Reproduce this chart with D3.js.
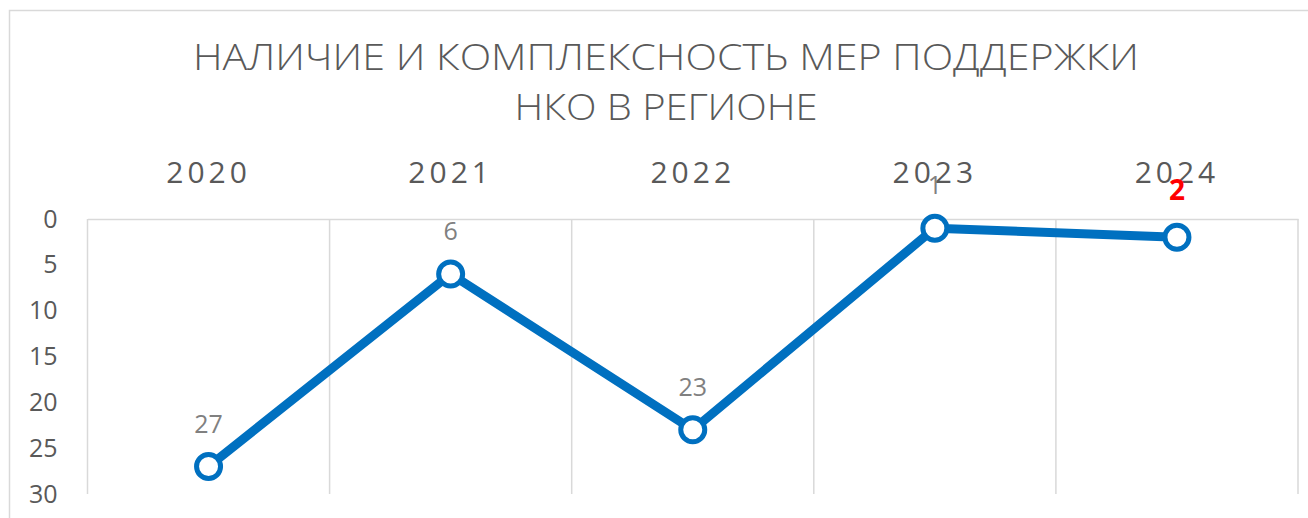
<html>
<head>
<meta charset="utf-8">
<script src="https://cdn.jsdelivr.net/npm/d3@7/dist/d3.min.js"></script>
<style>
body {
	margin: 0;
	background: #fff;
	font-family: "Open Sans", "Noto Sans", sans-serif;
}
</style>
</head>
<body>
<svg id="chart" width="1308" height="518"></svg>
<script>
// данные
var years = ["2020", "2021", "2022", "2023", "2024"];
var values = [27, 6, 23, 1, 2];
var yTicks = [0, 5, 10, 15, 20, 25, 30];
var titleLines = ["НАЛИЧИЕ И КОМПЛЕКСНОСТЬ МЕР ПОДДЕРЖКИ", "НКО В РЕГИОНЕ"];

var svg = d3.select("#chart"),
    margin = {top: 219, left: 87.5, bottom: 24, right: 10},
    width = +svg.attr("width") - margin.left - margin.right,
    height = +svg.attr("height") - margin.top - margin.bottom;

var lineColor = "#0070C0";
var gridColor = "#d9d9d9";

// рамка
svg.append("rect")
    .attr("x", 9.5).attr("y", 10.5)
    .attr("width", 1400).attr("height", 600)
    .attr("fill", "none")
    .attr("stroke", gridColor)
    .attr("stroke-width", 1.5);

// заголовок
svg.append("text")
    .attr("x", 666).attr("y", 70)
    .attr("text-anchor", "middle")
    .attr("font-size", 37)
    .attr("font-weight", 300)
    .attr("fill", "#595959")
    .attr("textLength", 946)
    .attr("lengthAdjust", "spacingAndGlyphs")
    .text(titleLines[0]);
svg.append("text")
    .attr("x", 666).attr("y", 120)
    .attr("text-anchor", "middle")
    .attr("font-size", 37)
    .attr("font-weight", 300)
    .attr("fill", "#595959")
    .attr("textLength", 303)
    .attr("lengthAdjust", "spacingAndGlyphs")
    .text(titleLines[1]);

var x = d3.scaleBand()
    .domain(years)
    .range([0, width]);

var y = d3.scaleLinear()
    .domain([0, 30])
    .range([0, 275]);

var g = svg.append("g")
    .attr("transform", `translate(${margin.left},${margin.top})`);

// вертикальная сетка
var bounds = years.map(function(d){ return x(d); }).concat([width]);
g.selectAll(".vgrid").data(bounds).enter().append("line")
    .attr("class", "vgrid")
    .attr("x1", function(d){ return d; })
    .attr("x2", function(d){ return d; })
    .attr("y1", 0)
    .attr("y2", y(30))
    .attr("stroke", gridColor)
    .attr("stroke-width", 1.5);

// ось категорий сверху
var xAxis = g.append("g")
    .attr("class", "x-axis")
    .call(d3.axisTop(x).tickSize(0).tickPadding(36));
xAxis.select(".domain").attr("stroke", gridColor).attr("stroke-width", 1.5);
xAxis.selectAll("text")
    .attr("font-size", 30)
    .attr("fill", "#595959")
    .attr("letter-spacing", 4)
    .style("font-family", "Open Sans");

// ось значений
var yAxis = g.append("g")
    .attr("class", "y-axis")
    .call(d3.axisLeft(y).tickValues(yTicks).tickSize(0).tickPadding(30));
yAxis.select(".domain").remove();
yAxis.selectAll("text")
    .attr("font-size", 25)
    .attr("fill", "#595959")
    .style("font-family", "Open Sans");

// линия
var cx = function(d, i){ return x(years[i]) + x.bandwidth() / 2; };
var line = d3.line()
    .x(function(d, i){ return cx(d, i); })
    .y(function(d){ return y(d); });

g.append("path")
    .datum(values)
    .attr("d", line)
    .attr("fill", "none")
    .attr("stroke", lineColor)
    .attr("stroke-width", 9)
    .attr("stroke-linejoin", "round");

g.selectAll(".dot").data(values).enter().append("circle")
    .attr("class", "dot")
    .attr("cx", cx)
    .attr("cy", function(d){ return y(d); })
    .attr("r", 12)
    .attr("fill", "#fff")
    .attr("stroke", lineColor)
    .attr("stroke-width", 5);

// подписи данных
g.selectAll(".lbl").data(values).enter().append("text")
    .attr("class", "lbl")
    .attr("x", cx)
    .attr("y", function(d, i){ return y(d) - (i == values.length - 1 ? 37 : 34); })
    .attr("text-anchor", "middle")
    .attr("font-size", function(d, i){ return i == values.length - 1 ? 28 : 25; })
    .attr("font-weight", function(d, i){ return i == values.length - 1 ? "bold" : "normal"; })
    .attr("fill", function(d, i){ return i == values.length - 1 ? "#ff0000" : "#808080"; })
    .text(function(d){ return d; });
</script>
</body>
</html>
